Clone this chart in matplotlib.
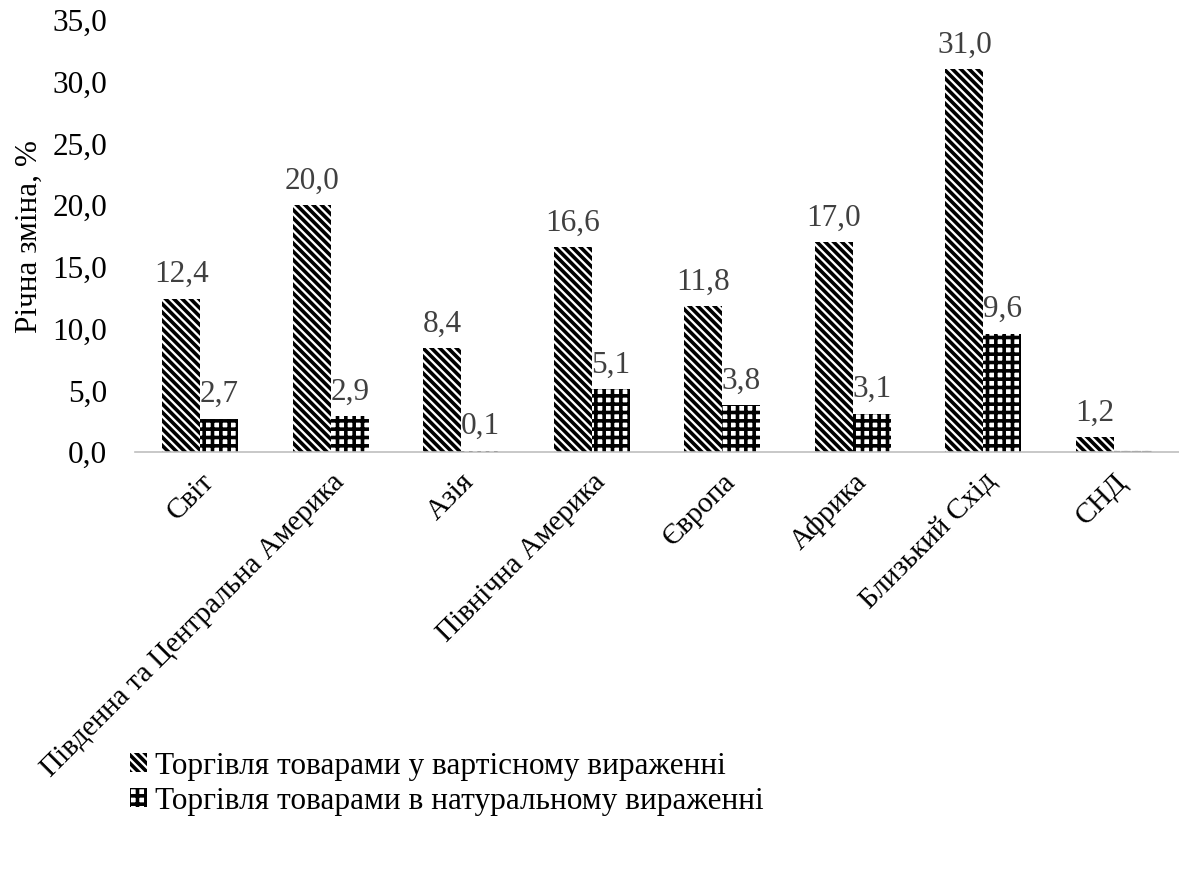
import matplotlib
matplotlib.use("Agg")
import matplotlib.pyplot as plt
import numpy as np

plt.rcParams["font.family"] = ["Liberation Serif", "DejaVu Serif"]
plt.rcParams["hatch.linewidth"] = 2.6

categories = ["Світ", "Південна та Центральна Америка", "Азія", "Північна Америка",
              "Європа", "Африка", "Близький Схід", "СНД"]
value_trade = [12.4, 20.0, 8.4, 16.6, 11.8, 17.0, 31.0, 1.2]
volume_trade = [2.7, 2.9, 0.1, 5.1, 3.8, 3.1, 9.6, 0.0]
series_names = ["Торгівля товарами у вартісному вираженні",
                "Торгівля товарами в натуральному вираженні"]

FS = 22.5


def fmt(v):
    return f"{v:.1f}".replace(".", ",")


fig = plt.figure(figsize=(11.79, 8.71), dpi=100)
ax = fig.add_axes([0.1145, 0.481, 0.8855, 0.496])

x = np.arange(len(categories))
w = 0.29
b1 = ax.bar(x - w / 2, value_trade, w, color="white", edgecolor="black",
            hatch="\\\\\\\\", linewidth=0, label=series_names[0])
b2 = ax.bar(x + w / 2, volume_trade, w, color="white", edgecolor="black",
            hatch="++", linewidth=0, label=series_names[1])

# zero value bar shows only as dashed outline
for rect, v in zip(b2, volume_trade):
    if v == 0:
        rect.set_linewidth(1.5)
        rect.set_linestyle((0, (3, 2)))
        rect.set_edgecolor("#404040")

for rects, vals in [(b1, value_trade), (b2, volume_trade)]:
    for rect, v in zip(rects, vals):
        if v == 0:
            continue
        ax.annotate(fmt(v), (rect.get_x() + rect.get_width() / 2, v),
                    xytext=(0, 7), textcoords="offset points",
                    ha="center", va="bottom", fontsize=FS, color="#404040")

ax.set_ylim(0, 35)
ax.set_xlim(-0.5, len(categories) - 0.5)
ax.set_yticks(np.arange(0, 36, 5))
ax.set_yticklabels([fmt(t) for t in np.arange(0, 36, 5)], fontsize=FS)
ax.set_xticks(x)
ax.set_xticklabels(categories, rotation=45, ha="right", rotation_mode="anchor",
                   fontsize=21)
ax.tick_params(axis="y", length=0, pad=20)
ax.tick_params(axis="x", length=0, pad=12)
ax.set_ylabel("Річна зміна, %", fontsize=FS, labelpad=6)

for s in ["top", "right", "left"]:
    ax.spines[s].set_visible(False)
ax.spines["bottom"].set_color("#bfbfbf")
ax.spines["bottom"].set_linewidth(1.2)

fig.legend(handles=[b1, b2], loc="upper left", bbox_to_anchor=(0.11, 0.137),
           frameon=False, fontsize=FS, handlelength=0.55, handleheight=0.55,
           handletextpad=0.25, labelspacing=0.2, borderaxespad=0, borderpad=0)

fig.savefig("out.png", dpi=100)
